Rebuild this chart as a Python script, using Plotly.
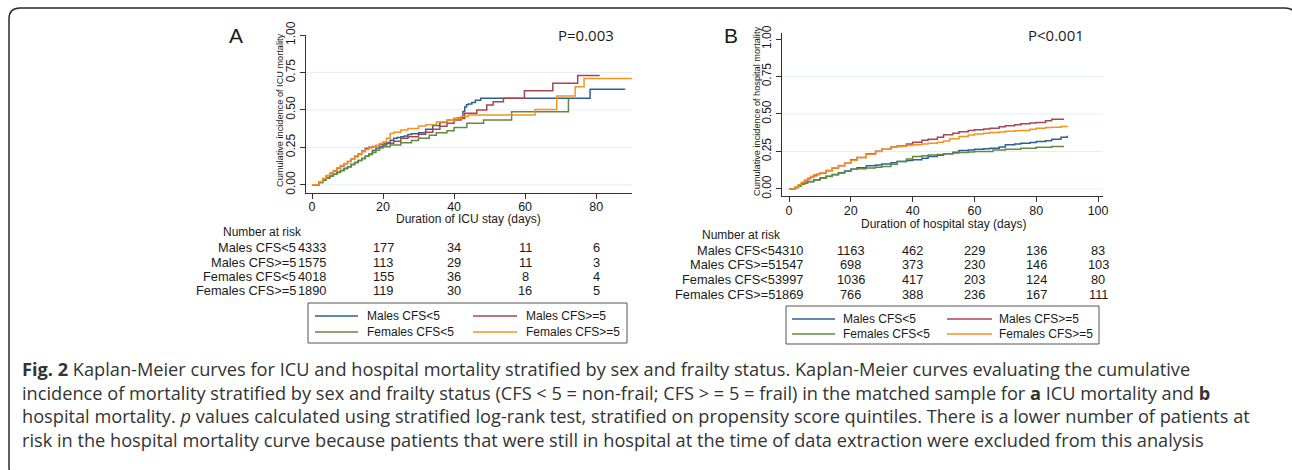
import plotly.graph_objects as go

W, H = 1292, 470

# ---------------- DATA ----------------
series_names = ["Males CFS<5", "Males CFS>=5", "Females CFS<5", "Females CFS>=5"]
series_colors = ["#2f5f95", "#a94452", "#5e8b3d", "#f5931e"]

# Panel A: ICU mortality (days, cumulative incidence)
a_male_lt5_t = [0, 1.3, 2, 3, 4, 5, 6, 7, 8, 9, 10, 11, 12, 13, 14, 15, 16, 17, 18, 19, 20, 21, 22, 23, 24, 25, 26, 27, 28, 30, 32, 34, 36, 38, 40, 41, 42, 42.5, 43, 43.5, 44, 45, 46, 47.5, 78.3, 88.2]
a_male_lt5_v = [0, 0, 0.015, 0.03, 0.045, 0.058, 0.07, 0.082, 0.095, 0.108, 0.12, 0.135, 0.148, 0.162, 0.176, 0.19, 0.205, 0.228, 0.245, 0.255, 0.265, 0.28, 0.298, 0.31, 0.315, 0.32, 0.325, 0.335, 0.34, 0.347, 0.37, 0.395, 0.415, 0.43, 0.443, 0.445, 0.45, 0.49, 0.52, 0.535, 0.54, 0.55, 0.565, 0.577, 0.637, 0.637]

a_male_ge5_t = [0, 1.3, 2, 3, 4, 5, 6, 7, 8, 9, 10, 11, 12, 13, 14, 15, 16, 17, 18, 19, 20, 22, 23, 25, 27, 30, 32, 34, 36, 38, 40, 42, 43, 46.4, 49.2, 51, 53.9, 59.8, 67.8, 74.8, 81]
a_male_ge5_v = [0, 0, 0.02, 0.04, 0.06, 0.075, 0.092, 0.11, 0.125, 0.14, 0.155, 0.172, 0.19, 0.205, 0.225, 0.243, 0.25, 0.255, 0.262, 0.27, 0.276, 0.278, 0.29, 0.31, 0.32, 0.338, 0.35, 0.37, 0.39, 0.41, 0.432, 0.443, 0.477, 0.5, 0.532, 0.555, 0.577, 0.628, 0.677, 0.73, 0.73]

a_fem_lt5_t = [0, 1.3, 2, 3, 4, 5, 6, 7, 8, 9, 10, 11, 12, 13, 14, 15, 16, 17, 18, 19, 20, 22, 25, 28, 30, 33, 35, 38, 40, 43.6, 48.3, 56.2, 72.2, 72.5]
a_fem_lt5_v = [0, 0, 0.015, 0.03, 0.045, 0.058, 0.07, 0.083, 0.096, 0.108, 0.12, 0.135, 0.148, 0.162, 0.175, 0.19, 0.202, 0.215, 0.23, 0.245, 0.254, 0.265, 0.28, 0.295, 0.31, 0.33, 0.347, 0.36, 0.383, 0.41, 0.432, 0.488, 0.57, 0.57]

a_fem_ge5_t = [0, 1.3, 2, 3, 4, 5, 6, 7, 8, 9, 10, 11, 12, 13, 14, 15, 16, 17, 18, 19, 20, 21, 22, 23, 25, 27, 30, 32, 35, 38, 40, 42, 44, 62.8, 68.9, 74.1, 76.6, 90.5]
a_fem_ge5_v = [0, 0, 0.02, 0.042, 0.062, 0.078, 0.095, 0.112, 0.128, 0.142, 0.155, 0.17, 0.185, 0.2, 0.22, 0.235, 0.245, 0.252, 0.262, 0.275, 0.287, 0.31, 0.343, 0.35, 0.365, 0.375, 0.392, 0.4, 0.419, 0.43, 0.443, 0.455, 0.465, 0.503, 0.592, 0.655, 0.71, 0.71]

# Panel B: hospital mortality
b_male_lt5_t = [0, 1.3, 2, 3, 4, 5, 6, 8, 10, 12, 14, 16, 18, 20, 22, 25, 28, 30, 33, 35, 38, 40, 43, 45, 48, 50, 53, 55, 58, 60, 63, 65, 68, 70, 73, 75, 78, 80, 83, 85, 88, 90]
b_male_lt5_v = [0, 0, 0.01, 0.022, 0.033, 0.042, 0.05, 0.062, 0.073, 0.085, 0.097, 0.108, 0.12, 0.131, 0.142, 0.154, 0.16, 0.167, 0.175, 0.183, 0.19, 0.194, 0.205, 0.216, 0.225, 0.234, 0.245, 0.256, 0.26, 0.265, 0.268, 0.272, 0.28, 0.294, 0.3, 0.305, 0.31, 0.316, 0.322, 0.332, 0.345, 0.355]

b_male_ge5_t = [0, 1.3, 2, 3, 4, 5, 6, 7, 8, 9, 10, 12, 14, 16, 18, 20, 22, 25, 28, 30, 33, 35, 38, 40, 43, 45, 48, 50, 53, 55, 58, 60, 63, 65, 68, 70, 73, 75, 78, 80, 83, 85, 89]
b_male_ge5_v = [0, 0, 0.01, 0.025, 0.04, 0.055, 0.068, 0.08, 0.088, 0.097, 0.105, 0.122, 0.14, 0.155, 0.172, 0.194, 0.21, 0.234, 0.252, 0.265, 0.28, 0.287, 0.3, 0.312, 0.325, 0.332, 0.345, 0.361, 0.372, 0.381, 0.39, 0.394, 0.4, 0.405, 0.415, 0.421, 0.428, 0.434, 0.44, 0.443, 0.455, 0.465, 0.465]

b_fem_lt5_t = [0, 1.3, 2, 3, 4, 5, 6, 8, 10, 12, 14, 16, 18, 20, 22, 25, 28, 30, 33, 35, 38, 40, 43, 45, 48, 50, 53, 55, 58, 60, 65, 66, 70, 75, 80, 85, 89]
b_fem_lt5_v = [0, 0, 0.01, 0.02, 0.032, 0.04, 0.048, 0.06, 0.071, 0.083, 0.095, 0.106, 0.118, 0.131, 0.135, 0.14, 0.145, 0.149, 0.165, 0.183, 0.2, 0.216, 0.222, 0.227, 0.23, 0.234, 0.24, 0.243, 0.247, 0.249, 0.249, 0.26, 0.265, 0.272, 0.278, 0.283, 0.283]

b_fem_ge5_t = [0, 1.3, 2, 3, 4, 5, 6, 7, 8, 9, 10, 12, 14, 16, 18, 20, 22, 25, 28, 30, 33, 35, 38, 40, 43, 45, 48, 50, 52, 55, 58, 60, 63, 65, 68, 70, 73, 75, 78, 80, 83, 85, 88, 90]
b_fem_ge5_v = [0, 0, 0.012, 0.028, 0.045, 0.06, 0.073, 0.085, 0.095, 0.1, 0.107, 0.124, 0.142, 0.156, 0.172, 0.192, 0.21, 0.232, 0.25, 0.265, 0.278, 0.283, 0.29, 0.294, 0.3, 0.305, 0.312, 0.32, 0.335, 0.35, 0.36, 0.367, 0.372, 0.376, 0.38, 0.385, 0.388, 0.39, 0.398, 0.405, 0.41, 0.412, 0.416, 0.42]

# Numbers at risk
a_risk_days = [0, 20, 40, 60, 80]
a_risk = [
    [4333, 177, 34, 11, 6],
    [1575, 113, 29, 11, 3],
    [4018, 155, 36, 8, 4],
    [1890, 119, 30, 16, 5],
]
b_risk_days = [0, 20, 40, 60, 80, 100]
b_risk = [
    [4310, 1163, 462, 229, 136, 83],
    [1547, 698, 373, 230, 146, 103],
    [3997, 1036, 417, 203, 124, 80],
    [1869, 766, 388, 236, 167, 111],
]

y_ticks = [0, 0.25, 0.5, 0.75, 1.0]
y_ticktext = ["0.00", "0.25", "0.50", "0.75", "1.00"]
a_xticks = [0, 20, 40, 60, 80]
b_xticks = [0, 20, 40, 60, 80, 100]

caption_lines = [
    "<b>Fig. 2</b> Kaplan-Meier curves for ICU and hospital mortality stratified by sex and frailty status. Kaplan-Meier curves evaluating the cumulative",
    "incidence of mortality stratified by sex and frailty status (CFS &lt; 5 = non-frail; CFS &gt; = 5 = frail) in the matched sample for <b>a</b> ICU mortality and <b>b</b>",
    "hospital mortality. <i>p</i> values calculated using stratified log-rank test, stratified on propensity score quintiles. There is a lower number of patients at",
    "risk in the hospital mortality curve because patients that were still in hospital at the time of data extraction were excluded from this analysis",
]

# ---------------- HELPERS ----------------
def px(x):
    return x / W

def py(y):
    return 1 - y / H

def esc(s):
    return s.replace("<", "&lt;").replace(">", "&gt;")

AX = "#333333"
TXT = "#1a1a1a"
FONT = "Liberation Sans, Arial, sans-serif"

fig = go.Figure()

a_series = [(a_male_lt5_t, a_male_lt5_v), (a_male_ge5_t, a_male_ge5_v),
            (a_fem_lt5_t, a_fem_lt5_v), (a_fem_ge5_t, a_fem_ge5_v)]
b_series = [(b_male_lt5_t, b_male_lt5_v), (b_male_ge5_t, b_male_ge5_v),
            (b_fem_lt5_t, b_fem_lt5_v), (b_fem_ge5_t, b_fem_ge5_v)]

for (t, v), name, col in zip(a_series, series_names, series_colors):
    fig.add_trace(go.Scatter(x=t, y=v, mode="lines", line=dict(color=col, width=1.5, shape="hv"),
                             name=name, xaxis="x", yaxis="y", showlegend=False))
for (t, v), name, col in zip(b_series, series_names, series_colors):
    fig.add_trace(go.Scatter(x=t, y=v, mode="lines", line=dict(color=col, width=1.5, shape="hv"),
                             name=name, xaxis="x2", yaxis="y2", showlegend=False))

axis_common = dict(showline=True, linecolor=AX, linewidth=1, ticks="outside", ticklen=5,
                   tickcolor=AX, tickwidth=1, showgrid=False, zeroline=False)
xfont = dict(family=FONT, size=12.5, color=TXT)
yfont = dict(family=FONT, size=12, color=TXT)

fig.update_layout(
    width=W, height=H, margin=dict(l=0, r=0, t=0, b=0, autoexpand=False),
    paper_bgcolor="white", plot_bgcolor="white",
    showlegend=False,
    xaxis=dict(domain=[px(306), px(632)], range=[-1.7, 90.1], tickvals=a_xticks, anchor="y",
               tickfont=xfont, ticklabelstandoff=-3, **axis_common),
    yaxis=dict(domain=[py(193), py(35)], range=[-0.055, 1.0], tickvals=y_ticks, ticktext=y_ticktext,
               tickangle=-90, anchor="x", tickfont=yfont, **axis_common),
    xaxis2=dict(domain=[px(782), px(1103)], range=[-2.27, 101.6], tickvals=b_xticks, anchor="y2",
                tickfont=xfont, ticklabelstandoff=-2, **axis_common),
    yaxis2=dict(domain=[py(196), py(33)], range=[-0.047, 1.04], tickvals=y_ticks, ticktext=y_ticktext,
                tickangle=-90, anchor="x2", tickfont=yfont, **axis_common),
)

shapes = []
# light gridlines
for yv in [0, 0.25, 0.5, 0.75]:
    shapes.append(dict(type="line", xref="x domain", yref="y", x0=0, x1=1, y0=yv, y1=yv,
                       line=dict(color="#e4eef1", width=1), layer="below"))
    shapes.append(dict(type="line", xref="x2 domain", yref="y2", x0=0, x1=1, y0=yv, y1=yv,
                       line=dict(color="#e4eef1", width=1), layer="below"))

annotations = []

def ann(text, x, y, size, xanchor="center", yanchor="middle", family=FONT, color=TXT, xref="paper", angle=0):
    annotations.append(dict(text=text, x=x, y=y, xref=xref, yref="paper", showarrow=False,
                            xanchor=xanchor, yanchor=yanchor, textangle=angle, align="left",
                            font=dict(family=family, size=size, color=color)))

# panel letters and p-values
ann("A", px(236), py(35), 21)
ann("B", px(731), py(35), 21)
ann("P=0.003", px(556), py(35), 15, xanchor="left", family="Open Sans, sans-serif")
ann("P&lt;0.001", px(1026), py(35), 15, xanchor="left", family="Open Sans, sans-serif")

# axis titles
ann("Cumulative incidence of ICU mortality", px(280), py(110), 9.2, angle=-90)
ann("Cumulative incidence of hospital mortality", px(757), py(112), 9.2, angle=-90)
ann("Duration of ICU stay (days)", px(469), py(219), 12)
ann("Duration of hospital stay (days)", px(943), py(224), 12)

# numbers at risk
def risk_table(x_left_title, y_title, label_right, rows_y, days, table, xref):
    ann("Number at risk", px(x_left_title), py(y_title), 12, xanchor="left")
    for name, yy, row in zip(series_names, rows_y, table):
        ann(esc(name), px(label_right), py(yy), 12.8, xanchor="right")
        for d, n in zip(days, row):
            ann(str(n), d, py(yy), 12.8, xref=xref)

risk_table(221, 232, 298, [247, 262, 276, 290], a_risk_days, a_risk, "x")
risk_table(700, 235, 777, [250, 264, 279, 294], b_risk_days, b_risk, "x2")

# legends (drawn as boxes with sample lines)
def legend_box(x0, x1, y0, y1, cols, rows_y):
    shapes.append(dict(type="rect", xref="paper", yref="paper", x0=px(x0), x1=px(x1), y0=py(y1), y1=py(y0),
                       line=dict(color="#555555", width=1), fillcolor="rgba(0,0,0,0)"))
    for i, (name, col) in enumerate(zip(series_names, series_colors)):
        r, c = divmod(i, 2)
        lx0, lx1, tx = cols[c]
        yy = rows_y[r]
        shapes.append(dict(type="line", xref="paper", yref="paper", x0=px(lx0), x1=px(lx1),
                           y0=py(yy), y1=py(yy), line=dict(color=col, width=1.3)))
        ann(esc(name), px(tx), py(yy), 12, xanchor="left")

legend_box(308, 627, 303, 343, [(315, 358, 365), (473, 517, 524)], [316, 332])
legend_box(786, 1099, 306, 344, [(792, 835, 841), (947, 992, 997)], [319, 334])

# caption (one multi-line text block)
ann("<br>".join(caption_lines), px(20), py(404), 18.2, xanchor="left",
    family="Open Sans, sans-serif", color="#333333")

# rounded outer frame
r = 11
x0, x1, y0, y1 = 9, 1296, 8, 478
path = (f"M {px(x0)},{py(y0 + r)} Q {px(x0)},{py(y0)} {px(x0 + r)},{py(y0)} "
        f"L {px(x1 - r)},{py(y0)} Q {px(x1)},{py(y0)} {px(x1)},{py(y0 + r)} "
        f"L {px(x1)},{py(y1 - r)} Q {px(x1)},{py(y1)} {px(x1 - r)},{py(y1)} "
        f"L {px(x0 + r)},{py(y1)} Q {px(x0)},{py(y1)} {px(x0)},{py(y1 - r)} Z")
shapes.append(dict(type="path", xref="paper", yref="paper", path=path,
                   line=dict(color="#2a2a2a", width=1.5)))

fig.update_layout(shapes=shapes, annotations=annotations)
fig.write_html("out.html", config={"responsive": False, "displayModeBar": False},
               post_script="document.body.style.margin='0';document.body.style.overflow='hidden';")
